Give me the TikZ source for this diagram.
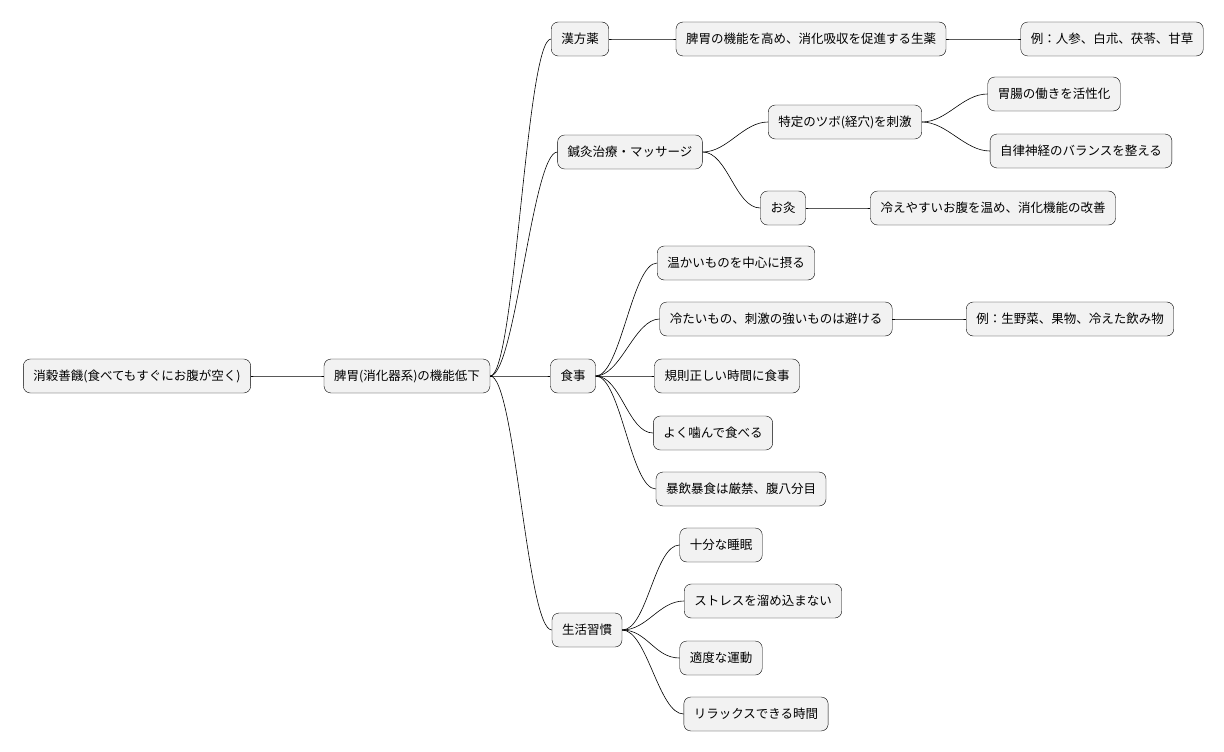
\documentclass[tikz,border=0pt]{standalone}
\usepackage{fontspec}
\setmainfont{Noto Sans CJK JP}
\begin{document}
\begin{tikzpicture}[x=1pt,y=-1pt,
      box/.style={draw, fill=black!5, rounded corners=7pt, minimum height=34pt, inner xsep=10pt, font=\fontsize{12.5}{14}\selectfont},
      link/.style={black, line width=0.6pt}
    ]
    \useasboundingbox (0,0) rectangle (1224,752);
    % nodes
    \node[box] (root) at (137,376) {消穀善饑(食べてもすぐにお腹が空く)};
    \node[box] (hi) at (407,376) {脾胃(消化器系)の機能低下};
    \node[box] (kanpo) at (580,39) {漢方薬};
    \node[box] (kanpoA) at (811,39) {脾胃の機能を高め、消化吸収を促進する生薬};
    \node[box] (kanpoB) at (1112,39) {例：人参、白朮、茯苓、甘草};
    \node[box] (shin) at (630,152) {鍼灸治療・マッサージ};
    \node[box] (tsubo) at (845,122) {特定のツボ(経穴)を刺激};
    \node[box] (tsuboA) at (1054,94) {胃腸の働きを活性化};
    \node[box] (tsuboB) at (1081,151) {自律神経のバランスを整える};
    \node[box] (kyu) at (783,208) {お灸};
    \node[box] (kyuA) at (993,208) {冷えやすいお腹を温め、消化機能の改善};
    \node[box] (shoku) at (573,376) {食事};
    \node[box] (shokuA) at (736,263) {温かいものを中心に摂る};
    \node[box] (shokuB) at (776,319) {冷たいもの、刺激の強いものは避ける};
    \node[box] (shokuC) at (1070,319) {例：生野菜、果物、冷えた飲み物};
    \node[box] (shokuD) at (727,376) {規則正しい時間に食事};
    \node[box] (shokuE) at (713,433) {よく噛んで食べる};
    \node[box] (shokuF) at (741,489) {暴飲暴食は厳禁、腹八分目};
    \node[box] (sei) at (587,630) {生活習慣};
    \node[box] (seiA) at (721,545) {十分な睡眠};
    \node[box] (seiB) at (763,601) {ストレスを溜め込まない};
    \node[box] (seiC) at (721,658) {適度な運動};
    \node[box] (seiD) at (756,714) {リラックスできる時間};
    % connectors
    \foreach \a/\b in {root/hi, hi/kanpo, kanpo/kanpoA, kanpoA/kanpoB,
        hi/shin, shin/tsubo, tsubo/tsuboA, tsubo/tsuboB, shin/kyu, kyu/kyuA,
        hi/shoku, shoku/shokuA, shoku/shokuB, shokuB/shokuC, shoku/shokuD,
        shoku/shokuE, shoku/shokuF, hi/sei, sei/seiA, sei/seiB, sei/seiC, sei/seiD}
      \draw[link] (\a.east) .. controls ([xshift=25pt]\a.east) and ([xshift=-25pt]\b.west) .. (\b.west);
  \end{tikzpicture}
\end{document}
